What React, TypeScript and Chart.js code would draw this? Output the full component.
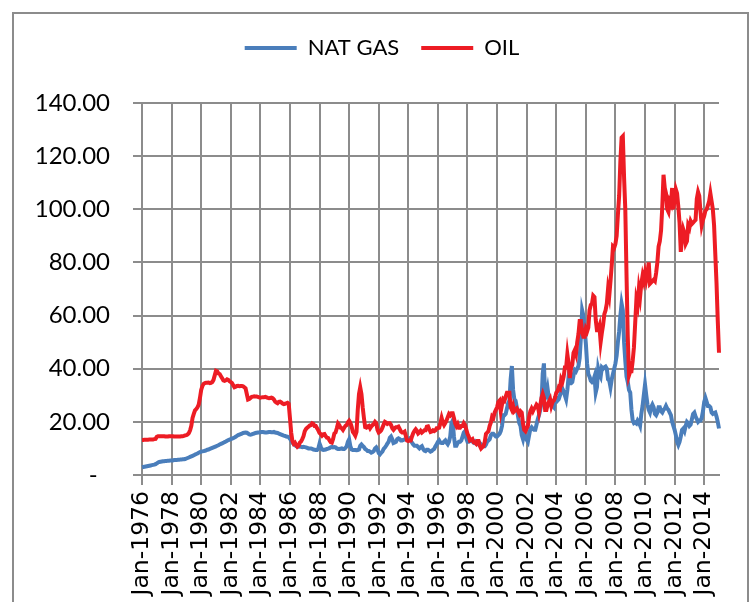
import { useEffect, useRef } from "react";
import { Chart, registerables } from "chart.js";

Chart.register(...registerables);

const MONTH_NAMES = ["Jan", "Feb", "Mar", "Apr", "May", "Jun", "Jul", "Aug", "Sep", "Oct", "Nov", "Dec"];
const FIRST_YEAR = 1976;
const LAST_YEAR = 2015;

// Monthly, Jan-1976 .. Jan-2015 (one row per year)
const OIL = [
  13.2, 13.2, 13.3, 13.3, 13.3, 13.3, 13.4, 13.4, 13.4, 13.4, 13.5, 13.6,
  14.4, 14.6, 14.6, 14.6, 14.6, 14.6, 14.6, 14.5, 14.5, 14.5, 14.6, 14.6,
  14.6, 14.6, 14.5, 14.5, 14.5, 14.5, 14.5, 14.5, 14.6, 14.6, 14.7, 14.9,
  15.0, 15.3, 15.8, 16.8, 18.5, 21.5, 23.0, 24.3, 24.8, 25.5, 26.5, 29.0,
  32.0, 33.5, 34.3, 34.6, 34.7, 34.7, 34.8, 34.6, 34.7, 35.0, 35.8, 37.5,
  39.2, 39.0, 38.2, 38.0, 37.2, 36.4, 35.6, 35.4, 35.6, 36.0, 35.8, 35.3,
  35.0, 34.6, 33.8, 33.0, 33.2, 33.5, 33.6, 33.4, 33.5, 33.5, 33.4, 33.0,
  32.6, 30.5, 28.4, 28.6, 29.0, 29.4, 29.5, 29.6, 29.5, 29.5, 29.4, 29.2,
  29.1, 29.2, 29.3, 29.3, 29.4, 29.2, 29.0, 28.9, 29.0, 29.1, 28.9, 28.4,
  27.6, 27.3, 27.0, 27.5, 27.6, 27.3, 26.9, 26.7, 26.8, 27.0, 27.2, 26.8,
  21.5, 16.0, 12.8, 11.8, 12.2, 11.3, 10.6, 11.0, 12.2, 12.6, 13.5, 14.6,
  16.5, 17.3, 17.8, 18.2, 18.6, 18.8, 19.5, 19.3, 18.4, 18.4, 17.6, 16.8,
  15.8, 15.4, 14.8, 15.3, 15.4, 14.6, 14.0, 13.9, 13.1, 12.4, 12.2, 13.6,
  15.6, 16.0, 17.6, 19.4, 18.8, 17.8, 17.6, 17.0, 17.8, 18.5, 18.8, 19.8,
  20.4, 19.6, 18.2, 16.2, 15.6, 14.8, 16.2, 24.5, 30.5, 33.0, 30.5, 25.5,
  21.5, 18.0, 17.8, 18.3, 18.5, 17.6, 18.3, 18.8, 19.2, 20.0, 19.5, 17.0,
  16.0, 16.3, 16.8, 17.8, 19.0, 20.0, 19.7, 19.2, 19.5, 19.5, 18.8, 17.6,
  17.0, 17.6, 18.0, 18.0, 18.2, 17.3, 16.4, 16.0, 16.0, 16.3, 14.7, 13.0,
  12.8, 13.0, 13.0, 14.5, 15.8, 16.6, 17.2, 16.6, 15.6, 16.0, 16.6, 16.0,
  16.4, 16.8, 16.8, 18.2, 18.3, 17.2, 16.2, 16.4, 16.8, 16.5, 16.8, 17.6,
  17.6, 17.8, 19.5, 21.5, 19.8, 18.8, 19.6, 20.5, 21.8, 23.0, 22.5, 23.2,
  23.2, 21.5, 19.4, 18.4, 19.2, 17.8, 17.8, 18.4, 18.4, 19.5, 18.8, 17.2,
  15.5, 14.5, 13.0, 13.2, 13.5, 12.3, 12.3, 11.8, 12.8, 12.8, 11.0, 10.0,
  10.5, 10.8, 12.5, 15.5, 16.0, 16.5, 18.5, 19.8, 22.0, 21.5, 23.5, 24.5,
  25.5, 27.5, 28.0, 24.0, 26.5, 28.5, 28.0, 29.5, 31.0, 31.0, 31.0, 25.5,
  24.5, 26.0, 24.0, 24.5, 25.0, 24.0, 23.0, 24.0, 23.5, 19.5, 17.0, 16.5,
  17.5, 18.5, 22.0, 24.0, 25.0, 24.0, 25.0, 25.5, 26.5, 26.0, 23.5, 26.0,
  29.0, 30.5, 29.0, 24.5, 24.5, 26.5, 27.5, 28.5, 26.0, 27.5, 28.0, 29.0,
  31.0, 31.5, 33.0, 32.5, 36.0, 35.0, 37.0, 40.5, 40.5, 45.5, 42.0, 36.5,
  40.5, 41.5, 46.0, 47.0, 45.5, 50.0, 53.0, 58.0, 58.0, 54.0, 52.0, 52.0,
  55.0, 54.0, 55.5, 62.0, 64.0, 64.5, 67.5, 67.0, 58.5, 54.5, 54.5, 56.0,
  50.0, 53.5, 56.5, 60.5, 62.0, 64.5, 70.0, 67.5, 73.0, 79.0, 86.0, 85.5,
  87.0, 90.0, 98.0, 105.0, 118.0, 127.0, 127.5, 112.0, 100.0, 75.0, 52.0, 37.5,
  39.0, 39.0, 43.0, 48.0, 57.0, 66.0, 64.0, 70.0, 67.0, 72.0, 75.0, 73.0,
  76.0, 73.5, 76.0, 80.0, 72.0, 72.5, 73.0, 73.5, 73.0, 76.0, 80.0, 86.0,
  88.0, 92.0, 101.0, 113.0, 108.0, 106.0, 100.0, 99.0, 103.0, 102.0, 108.0, 100.0,
  104.0, 107.5, 106.0, 101.0, 95.0, 84.0, 89.0, 92.5, 91.0, 87.0, 88.0, 94.0,
  93.0, 95.5, 94.5, 95.0, 95.5, 96.0, 104.0, 106.5, 105.0, 99.0, 94.0, 96.0,
  97.5, 99.5, 100.0, 101.5, 103.0, 106.0, 103.0, 100.0, 94.0, 83.0, 72.0, 58.0,
  46.0,
];

const NAT_GAS = [
  2.9, 3.0, 3.1, 3.2, 3.3, 3.4, 3.5, 3.6, 3.7, 3.8, 3.9, 4.1,
  4.4, 4.7, 4.9, 5.0, 5.1, 5.2, 5.2, 5.3, 5.3, 5.4, 5.4, 5.5,
  5.5, 5.5, 5.6, 5.6, 5.6, 5.7, 5.7, 5.8, 5.8, 5.9, 5.9, 6.0,
  6.2, 6.4, 6.6, 6.8, 7.0, 7.2, 7.4, 7.7, 7.9, 8.1, 8.4, 8.6,
  8.8, 8.9, 9.0, 9.1, 9.3, 9.5, 9.6, 9.8, 10.0, 10.2, 10.4, 10.6,
  10.8, 11.0, 11.2, 11.5, 11.7, 11.9, 12.1, 12.4, 12.6, 12.9, 13.1, 13.3,
  13.5, 13.7, 13.9, 14.1, 14.4, 14.7, 15.0, 15.2, 15.4, 15.6, 15.8, 15.9,
  16.0, 15.9, 15.6, 15.3, 15.2, 15.3, 15.5, 15.6, 15.8, 15.9, 16.0, 16.0,
  16.1, 16.2, 16.2, 16.1, 16.0, 16.0, 16.1, 16.2, 16.2, 16.1, 16.1, 16.2,
  16.0, 15.9, 15.8, 15.6, 15.4, 15.2, 15.0, 14.8, 14.7, 14.5, 14.4, 14.2,
  13.6, 13.0, 12.2, 11.6, 11.2, 10.9, 10.8, 10.7, 10.6, 10.6, 10.5, 10.6,
  10.5, 10.4, 10.2, 10.0, 10.0, 10.0, 9.8, 9.6, 9.5, 9.4, 9.4, 10.0,
  11.8, 10.6, 9.6, 9.4, 9.5, 9.6, 9.8, 9.9, 10.1, 10.4, 10.6, 10.4,
  10.5, 10.4, 10.0, 9.8, 9.8, 9.9, 10.0, 9.8, 9.8, 10.2, 10.8, 12.5,
  13.4, 10.8, 9.6, 9.4, 9.4, 9.4, 9.3, 9.4, 9.6, 11.0, 11.5, 11.0,
  10.5, 9.8, 9.5, 9.0, 9.0, 8.8, 8.4, 8.6, 9.0, 10.0, 10.4, 9.6,
  8.2, 7.8, 8.4, 8.8, 9.8, 10.3, 11.0, 11.8, 12.5, 14.0, 14.5, 13.5,
  12.0, 12.2, 12.5, 13.5, 13.8, 13.5, 13.0, 13.0, 13.2, 13.4, 13.5, 13.2,
  13.5, 13.8, 12.8, 12.2, 11.5, 11.0, 11.0, 11.0, 10.5, 10.0, 10.5, 10.8,
  9.8, 9.2, 9.0, 9.5, 9.5, 9.2, 8.8, 9.0, 9.5, 9.8, 10.8, 11.5,
  12.5, 13.0, 12.2, 12.0, 12.0, 12.6, 13.0, 12.2, 11.6, 12.5, 14.5, 19.5,
  20.5, 14.5, 11.0, 11.0, 12.0, 12.5, 12.5, 13.0, 14.5, 16.0, 16.5, 13.8,
  12.5, 12.5, 12.8, 13.0, 12.6, 12.2, 12.6, 11.8, 11.6, 11.5, 12.0, 11.5,
  11.2, 10.8, 10.8, 11.5, 12.6, 13.0, 13.5, 15.0, 15.5, 15.5, 15.0, 14.5,
  14.5, 15.0, 15.5, 16.5, 18.5, 22.5, 22.5, 23.0, 25.0, 27.0, 28.0, 36.0,
  41.0, 32.0, 28.5, 28.0, 25.5, 22.0, 19.5, 18.5, 15.0, 13.5, 16.0, 14.0,
  13.3, 12.5, 15.0, 17.4, 18.0, 17.4, 17.0, 17.0, 19.0, 21.0, 22.5, 24.5,
  27.0, 38.0, 42.0, 29.0, 30.0, 32.5, 29.0, 27.0, 26.0, 26.0, 25.5, 29.0,
  29.0, 28.0, 28.5, 30.0, 31.5, 32.5, 31.5, 30.0, 28.5, 32.0, 37.0, 34.5,
  34.5, 35.0, 37.5, 39.5, 39.0, 40.0, 41.0, 44.0, 52.0, 62.0, 60.0, 55.0,
  49.5, 42.0, 38.0, 37.0, 35.5, 35.0, 35.5, 37.0, 31.0, 33.0, 40.0, 38.0,
  37.0, 40.5, 40.0, 40.5, 40.8, 40.0, 36.0, 35.5, 33.0, 36.0, 38.0, 40.0,
  42.0, 45.0, 50.0, 54.0, 60.0, 64.5, 62.0, 50.0, 43.0, 37.0, 35.0, 32.0,
  31.0, 24.5, 20.5, 19.5, 19.8, 19.4, 20.5, 19.8, 18.6, 23.0, 26.0, 30.0,
  34.0, 30.0, 26.5, 24.5, 23.5, 25.5, 26.5, 25.5, 23.0, 22.5, 23.5, 25.5,
  25.5, 24.0, 23.5, 24.5, 25.0, 26.0, 25.0, 24.5, 23.5, 22.5, 20.0, 18.5,
  17.0, 15.0, 12.5, 11.3, 12.5, 14.5, 17.0, 17.5, 16.5, 18.5, 20.0, 19.5,
  18.5, 19.0, 21.0, 23.0, 23.5, 22.0, 21.0, 20.0, 20.5, 20.5, 21.5, 24.0,
  27.5, 29.0, 27.5, 26.0, 26.0, 25.5, 23.5, 23.0, 23.3, 23.5, 22.0, 20.0,
  17.5,
];

const Y_TICK_STEP = 20;
const Y_MAX = 140;
const LABEL_EVERY = 24; // one tick label (and grid line) every two years

const CATEGORIES: string[] = [];
for (let y = FIRST_YEAR; y <= LAST_YEAR; y++) {
  for (const m of MONTH_NAMES) CATEGORIES.push(`${m}-${y}`);
}
CATEGORIES.length = OIL.length;

const GRID = "#8c8c8c";

export default function App() {
  const ref = useRef<HTMLCanvasElement>(null);

  useEffect(() => {
    if (!ref.current) return;
    const chart = new Chart(ref.current, {
      type: "line",
      data: {
        labels: CATEGORIES,
        datasets: [
          {
            label: "NAT GAS",
            data: NAT_GAS,
            borderColor: "#4A7EBB",
            backgroundColor: "#4A7EBB",
            borderWidth: 4,
            pointRadius: 0,
            tension: 0,
            order: 1,
          },
          {
            label: "OIL",
            data: OIL,
            borderColor: "#ED1C24",
            backgroundColor: "#ED1C24",
            borderWidth: 4,
            pointRadius: 0,
            tension: 0,
            order: 0,
          },
        ],
      },
      options: {
        responsive: false,
        animation: false,
        devicePixelRatio: 1,
        layout: { padding: { left: 12, right: 0, top: 15, bottom: 0 } },
        plugins: {
          legend: {
            position: "top",
            labels: {
              font: { family: "Lato", size: 22 },
              color: "#000",
              boxWidth: 52,
              boxHeight: 4,
              padding: 22,
              sort: (a: any, b: any) => a.datasetIndex - b.datasetIndex,
              generateLabels: (c: any) =>
                (Chart.defaults.plugins.legend.labels as any)
                  .generateLabels(c)
                  .map((l: any) => ({ ...l, lineWidth: 0 })),
            },
          },
          subtitle: {
            display: true,
            text: " ",
            position: "top",
            weight: 500,
            font: { size: 10, lineHeight: 1 },
            padding: { top: 0, bottom: 24 },
          } as any,
          tooltip: { enabled: false },
        },
        scales: {
          x: {
            type: "category",
            grid: { color: GRID, lineWidth: 2, tickLength: 10, drawTicks: true },
            border: { color: GRID, width: 2 },
            ticks: {
              autoSkip: false,
              maxRotation: 90,
              minRotation: 90,
              padding: 6,
              color: "#000",
              font: { family: "DejaVu Sans", size: 23.5 },
              callback: (_v: any, i: number) => (i % LABEL_EVERY === 0 ? CATEGORIES[i] : null),
            },
            afterFit: (s: any) => {
              s.height = 127;
            },
          },
          y: {
            min: 0,
            max: Y_MAX,
            grid: { color: GRID, lineWidth: 2, tickLength: 9, drawTicks: true },
            border: { color: GRID, width: 2 },
            ticks: {
              stepSize: Y_TICK_STEP,
              padding: 23,
              color: "#000",
              font: { family: "Lato", size: 24 },
              callback: (v: any) => (Number(v) === 0 ? "-  " : Number(v).toFixed(2)),
            },
            afterFit: (s: any) => {
              s.width = 130;
            },
          },
          // empty right-hand spacer so the plot ends where the reference's does
          spacer: {
            type: "linear",
            position: "right",
            display: true,
            grid: { display: false, drawTicks: false },
            border: { display: false },
            ticks: { display: false },
            afterFit: (s: any) => {
              s.width = 33;
            },
          },
        },
      },
    });
    return () => chart.destroy();
  }, []);

  return (
    <div
      style={{
        position: "fixed",
        left: 0,
        top: 0,
        width: 752,
        height: 602,
        overflow: "hidden",
        background: "#fff",
      }}
    >
      <div
        style={{
          position: "absolute",
          left: 12,
          top: 12,
          width: 733,
          height: 640,
          border: "2px solid #8c8c8c",
        }}
      />
      <canvas
        ref={ref}
        width={752}
        height={602}
        style={{ position: "absolute", left: 0, top: 0, width: 752, height: 602 }}
      />
    </div>
  );
}
